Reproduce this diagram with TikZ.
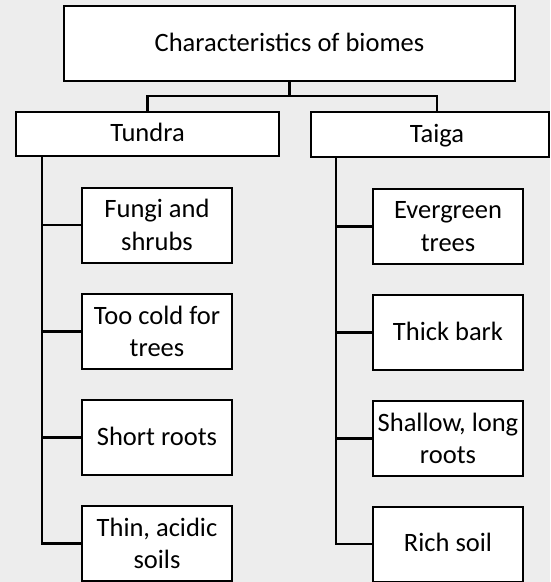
\documentclass[tikz,border=0pt]{standalone}
\usepackage{fontspec}
\setmainfont{Carlito}
\definecolor{bg}{HTML}{EDEDED}
\newcommand{\mystrut}{\rule[-8.5pt]{0pt}{32.5pt}}
\begin{document}
\begin{tikzpicture}[x=1pt,y=1pt,
  txt/.style={inner sep=0pt, align=center, font=\fontsize{26.5}{32.5}\selectfont},
  box/.style={txt, draw=black, fill=white, line width=2pt},
  child/.style={box, minimum width=150pt, minimum height=75pt},
  conn/.style={draw=black, line width=2.5pt}]
\fill[bg] (0,0) rectangle (550,-582);
\useasboundingbox (0,0) rectangle (550,-582);
\node[box, minimum width=451pt, minimum height=75pt] (top) at (289.5,-43.5) {\mystrut Characteristics of biomes};
\node[box, minimum width=263pt, minimum height=44pt] (tundra) at (147.5,-134) {\mystrut Tundra};
\node[box, minimum width=238pt, minimum height=45pt] (taiga) at (430,-134.5) {};
\node[txt] (taigatxt) at (437,-134.5) {\mystrut Taiga};
\node[child] (fungi) at (157,-225) {Fungi and\\shrubs};
\node[child] (cold) at (157,-331.5) {Too cold for\\trees};
\node[child] (short) at (157,-437.5) {\mystrut Short roots};
\node[child] (thin) at (157,-543.5) {Thin, acidic\\soils};
\node[child] (ever) at (448,-226.5) {Evergreen\\trees};
\node[child] (bark) at (448,-332.5) {\mystrut Thick bark};
\node[child] (shallow) at (448,-438.5) {Shallow, long\\roots};
\node[child] (rich) at (448,-544) {\mystrut Rich soil};
\coordinate (hub) at (289.5,-96);
\coordinate (taigatop) at (437,-112);
\coordinate (lt) at (42,-156);
\coordinate (rt) at (336,-157);
\draw[conn] (top.south) -- (hub);
\draw[conn] (tundra.north) |- (hub) -| (taigatop);
\foreach \n in {fungi,cold,short,thin} \draw[conn] (lt) |- (\n.west);
\foreach \n in {ever,bark,shallow,rich} \draw[conn] (rt) |- (\n.west);
\end{tikzpicture}
\end{document}
